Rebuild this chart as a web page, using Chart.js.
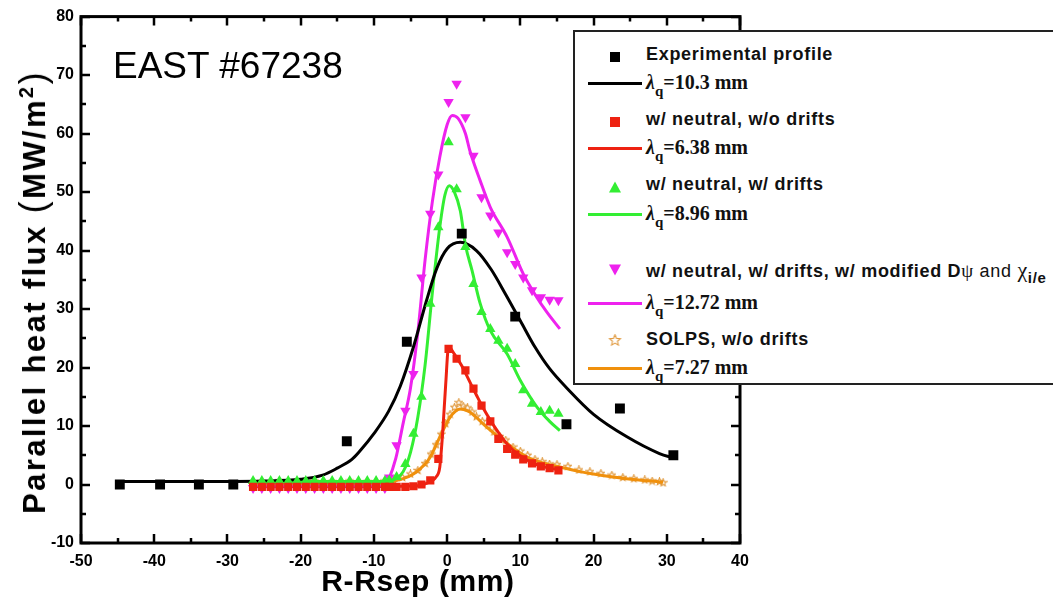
<!DOCTYPE html>
<html>
<head>
<meta charset="utf-8">
<script src="https://cdn.jsdelivr.net/npm/chart.js@4.4.0/dist/chart.umd.min.js"></script>
<style>
  html, body { margin: 0; padding: 0; background: #fff; }
  #wrap { position: relative; width: 1053px; height: 603px; overflow: hidden; }
  #heatChart { position: absolute; left: 0; top: 0; }
  .shot { position: absolute; left: 113px; top: 47px; font: 37px "Liberation Sans", Arial, sans-serif; line-height: 37px; color: #000; white-space: nowrap; }
  .ytitle { position: absolute; left: 33px; top: 292px; transform: translate(-50%, -50%) rotate(-90deg); font: bold 31px "Liberation Sans", Arial, sans-serif; letter-spacing: 2.4px; white-space: nowrap; color: #000; }
  .ytitle .par { font-weight: normal; font-size: 36px; }
  .ytitle sup { font-size: 20px; vertical-align: 12px; line-height: 0; }
  .xtitle { position: absolute; left: 418px; top: 581px; transform: translate(-50%, -50%); font: bold 30px "Liberation Sans", Arial, sans-serif; letter-spacing: 0.6px; white-space: nowrap; color: #000; }
  .legend { position: absolute; left: 573px; top: 30px; width: 500px; height: 355px; background: #fff; border: 2px solid #222; box-sizing: border-box; }
  .row { position: absolute; left: 0; right: 0; height: 26px; margin-top: -13px; }
  .mk { position: absolute; left: 40px; top: 13px; transform: translate(-50%, -50%); }
  .sq { width: 10px; height: 10px; }
  .up { width: 0; height: 0; border-left: 6px solid transparent; border-right: 6px solid transparent; border-bottom: 11px solid #33ee33; }
  .down { width: 0; height: 0; border-left: 6px solid transparent; border-right: 6px solid transparent; border-top: 11px solid #ee22ee; }
  .ln { position: absolute; left: 13px; top: 11px; width: 54px; height: 3px; }
  .tx { position: absolute; left: 71px; top: 0; line-height: 26px; white-space: nowrap; font: bold 18px "Liberation Sans", Arial, sans-serif; letter-spacing: 0.7px; color: #111; }
  .lam { font: bold 20px "Liberation Serif", "Times New Roman", serif; letter-spacing: 0; }
  .lam sub { font-size: 15px; vertical-align: -7px; line-height: 0; }
  .psi { font: 19px "Liberation Serif", serif; }
  .and { font-weight: normal; }
  .chi { font: 22px "Liberation Serif", serif; }
  .chi + sub { font-size: 15px; vertical-align: -6px; line-height: 0; }
</style>
</head>
<body>
<div id="wrap">
  <canvas id="heatChart" width="1053" height="603"></canvas>
  <div class="shot">EAST #67238</div>
  <div class="ytitle">Parallel heat flux <span class="par">(</span>MW/m<sup>2</sup><span class="par">)</span></div>
  <div class="xtitle">R-Rsep (mm)</div>
  <div class="legend">
    <div class="row" style="top:25px"><div class="mk sq" style="background:#000"></div><div class="tx">Experimental profile</div></div>
    <div class="row" style="top:52px"><div class="ln" style="background:#000"></div><div class="tx lam"><i>λ</i><sub>q</sub>=10.3 mm</div></div>
    <div class="row" style="top:90px"><div class="mk sq" style="background:#ee2211"></div><div class="tx">w/ neutral, w/o drifts</div></div>
    <div class="row" style="top:117px"><div class="ln" style="background:#ee2211"></div><div class="tx lam"><i>λ</i><sub>q</sub>=6.38 mm</div></div>
    <div class="row" style="top:155px"><div class="mk up"></div><div class="tx">w/ neutral, w/ drifts</div></div>
    <div class="row" style="top:183px"><div class="ln" style="background:#33ee33"></div><div class="tx lam"><i>λ</i><sub>q</sub>=8.96 mm</div></div>
    <div class="row" style="top:238px"><div class="mk down"></div><div class="tx">w/ neutral, w/ drifts, w/ modified D<span class="psi">ψ</span> <span class="and">and</span> <span class="chi">χ</span><sub>i/e</sub></div></div>
    <div class="row" style="top:272px"><div class="ln" style="background:#ee22ee"></div><div class="tx lam"><i>λ</i><sub>q</sub>=12.72 mm</div></div>
    <div class="row" style="top:310px"><div class="mk" id="starKey"></div><div class="tx">SOLPS, w/o drifts</div></div>
    <div class="row" style="top:337px"><div class="ln" style="background:#f0900c"></div><div class="tx lam"><i>λ</i><sub>q</sub>=7.27 mm</div></div>
  </div>
</div>
<script>
// axis ticks
const xTicks = [-50, -40, -30, -20, -10, 0, 10, 20, 30, 40];
const xMinor = [-45, -35, -25, -15, -5, 5, 15, 25, 35];
const yTicks = [-10, 0, 10, 20, 30, 40, 50, 60, 70, 80];
const yMinor = [-5, 5, 15, 25, 35, 45, 55, 65, 75];

// measured profile
const expX = [-44.7, -39.2, -33.9, -29.2, -13.7, -5.5, 2.0, 9.3, 16.3, 23.6, 30.9];
const expY = [0, 0, 0, 0, 7.4, 24.4, 42.9, 28.7, 10.3, 13.0, 5.0];
const expFitX = [-45, -35, -25, -20, -17, -15, -13, -12, -10, -8, -6.4, -4.6, -2.8, -1.4, 0, 1.8, 4, 6, 8, 10, 12, 14, 16.5, 20, 24.5, 29, 31];
const expFitY = [0.5, 0.5, 0.6, 0.9, 1.6, 2.8, 4.3, 5.6, 8.7, 12.5, 16.8, 23.5, 31.5, 37.0, 40.3, 41.4, 40.0, 36.8, 32.5, 28.0, 23.5, 19.8, 16.3, 12.0, 8.2, 5.3, 4.5];

// simulation grid shared by the three code runs
const simX = [-26.5, -25.3, -24.1, -22.9, -21.7, -20.5, -19.3, -18.1, -16.9, -15.7, -14.5, -13.3, -12.1, -10.9, -9.7, -8.5,
  -7.9, -6.9, -5.7, -4.6, -3.5, -2.3, -1.2, 0.2, 1.3, 2.5, 3.6, 4.7, 5.9, 7.0, 8.2, 9.3, 10.4, 11.6, 12.8, 14.0, 15.2];

// w/ neutral, w/o drifts
const noDriftY = [-0.4, -0.4, -0.4, -0.4, -0.4, -0.4, -0.4, -0.4, -0.4, -0.4, -0.4, -0.4, -0.4, -0.4, -0.4, -0.4,
  -0.4, -0.4, -0.4, -0.3, 0.0, 0.7, 4.4, 23.2, 21.5, 19.5, 16.4, 13.5, 10.8, 7.8, 6.1, 5.1, 4.3, 3.6, 3.1, 2.8, 2.4];
const noDriftFitX = [-26.5, -10, -4, -3, -2, -1.5, -1.0, -0.6, -0.2, 0.2, 1.0, 2.0, 3.0, 4.0, 5.0, 6.0, 7.0, 8.0, 9.0, 10.0, 11.5, 13.0, 15.2];
const noDriftFitY = [-0.3, -0.3, -0.2, 0.1, 0.7, 1.3, 3.0, 9.0, 17.0, 23.5, 22.3, 20.3, 17.8, 15.3, 12.9, 10.8, 8.9, 7.2, 5.9, 4.9, 3.8, 3.1, 2.5];

// w/ neutral, w/ drifts
const driftY = [0.6, 0.6, 0.6, 0.6, 0.6, 0.6, 0.6, 0.6, 0.6, 0.6, 0.6, 0.6, 0.6, 0.6, 0.6, 0.6,
  0.7, 1.3, 3.5, 8.7, 15.0, 30.9, 44.0, 58.5, 50.5, 40.6, 34.3, 29.5, 26.6, 24.6, 23.2, 20.6, 16.1, 13.8, 12.4, 12.6, 12.1];
const driftFitX = [-26.5, -10, -8, -7, -6, -5, -4, -3, -2, -1, -0.3, 0.3, 1.0, 1.8, 2.5, 3.4, 4.5, 5.9, 8.2, 10.0, 12.3, 14.0, 15.4];
const driftFitY = [0.5, 0.5, 0.6, 1.0, 2.2, 5.5, 11.5, 20.5, 33.0, 44.0, 49.5, 51.1, 50.0, 46.8, 41.0, 36.6, 31.0, 26.3, 22.3, 17.8, 13.2, 10.8, 9.2];

// w/ neutral, w/ drifts, modified transport
const modY = [-0.6, -0.6, -0.6, -0.6, -0.6, -0.6, -0.6, -0.6, -0.6, -0.6, -0.6, -0.6, -0.6, -0.6, -0.6, -0.6,
  1.2, 6.7, 12.6, 18.9, 35.4, 46.3, 53.0, 65.4, 68.5, 62.8, 56.2, 49.1, 46.0, 43.1, 39.7, 37.7, 35.4, 33.2, 32.0, 31.6, 31.5];
const modFitX = [-26.5, -10, -8.5, -8, -7, -6, -5, -4, -3, -2, -1, 0, 0.7, 1.5, 2.5, 3.1, 4.5, 5.9, 8.2, 10.4, 12.0, 13.6, 15.4];
const modFitY = [-0.4, -0.4, -0.2, 0.8, 4.5, 10.5, 16.5, 26.0, 38.5, 48.5, 56.0, 61.5, 63.1, 62.6, 60.0, 57.1, 52.0, 47.4, 42.3, 36.0, 32.5, 29.5, 26.6];

// SOLPS, w/o drifts
const solpsX = [-26.5, -25.3, -24.1, -22.9, -21.7, -20.5, -19.3, -18.1, -16.9, -15.7, -14.5, -13.3, -12.1, -10.9, -9.7, -8.5,
  -7.3, -6.1, -5.0, -4.0, -3.0, -2.2, -1.5, -0.8, -0.2, 0.4, 1.0, 1.6, 2.2, 2.8, 3.4, 4.0, 4.8, 5.6, 6.4, 7.2, 8.0, 9.0,
  10.0, 11.0, 12.0, 13.0, 14.0, 15.0, 16.5, 18.0, 19.5, 21.0, 22.5, 24.0, 25.5, 27.0, 28.0, 29.0, 29.5];
const solpsY = [0.3, 0.5, 0.3, 0.6, 0.3, 0.5, 0.3, 0.6, 0.4, 0.5, 0.3, 0.6, 0.4, 0.5, 0.4, 0.6,
  0.7, 1.2, 1.8, 2.4, 3.6, 5.2, 6.8, 8.6, 10.4, 12.0, 13.2, 14.0, 13.4, 13.1, 12.4, 11.6, 10.8, 10.1, 9.0, 8.2, 7.6, 6.4,
  5.7, 5.0, 4.3, 3.9, 3.5, 3.4, 3.1, 2.5, 2.2, 1.9, 1.6, 1.2, 1.0, 0.8, 0.6, 0.5, 0.3];
const solpsFitX = [-26.5, -10, -8, -6, -4.6, -3, -2.3, -1, 0.4, 1.8, 3.1, 5.4, 8.2, 10.9, 13.6, 15.4, 18.2, 20, 24.5, 29.5];
const solpsFitY = [0.2, 0.2, 0.4, 1.0, 1.8, 3.5, 4.7, 8.1, 11.5, 12.9, 12.4, 9.8, 7.0, 4.7, 3.5, 3.0, 2.2, 1.8, 1.0, 0.4];

const pts = (xs, ys) => xs.map((x, i) => ({ x: x, y: ys[i] }));

function makeStar(size, color) {
  const c = document.createElement('canvas');
  c.width = size;
  c.height = size;
  const g = c.getContext('2d');
  const r1 = size / 2 - 0.7, r2 = r1 * 0.45;
  g.beginPath();
  for (let i = 0; i < 10; i++) {
    const r = i % 2 ? r2 : r1;
    const a = -Math.PI / 2 + i * Math.PI / 5;
    g.lineTo(size / 2 + r * Math.cos(a), size / 2 + r * Math.sin(a));
  }
  g.closePath();
  g.strokeStyle = color;
  g.lineWidth = 1.1;
  g.stroke();
  return c;
}
document.getElementById('starKey').appendChild(makeStar(13, '#e09a40'));

function fitLine(label, xs, ys, color, order) {
  return {
    label: label, data: pts(xs, ys), showLine: true, pointRadius: 0,
    borderColor: color, borderWidth: 3, cubicInterpolationMode: 'monotone', order: order
  };
}
function markers(label, xs, ys, style, color, radius, order, extra) {
  return Object.assign({
    label: label, data: pts(xs, ys), showLine: false, pointStyle: style, pointRadius: radius,
    backgroundColor: color, borderColor: color, borderWidth: 0, order: order
  }, extra || {});
}

// frame with inward ticks on all four sides
const frameAxes = {
  id: 'frameAxes',
  afterDatasetsDraw(chart) {
    const { ctx, chartArea: a, scales: { x, y } } = chart;
    ctx.save();
    ctx.strokeStyle = '#000';
    ctx.lineWidth = 2.5;
    ctx.beginPath();
    const tick = (vals, len) => {
      vals.forEach(v => {
        const px = Math.round(x.getPixelForValue(v));
        ctx.moveTo(px, a.bottom); ctx.lineTo(px, a.bottom - len);
        ctx.moveTo(px, a.top); ctx.lineTo(px, a.top + len);
      });
    };
    const tickY = (vals, len) => {
      vals.forEach(v => {
        const py = Math.round(y.getPixelForValue(v));
        ctx.moveTo(a.left, py); ctx.lineTo(a.left + len, py);
        ctx.moveTo(a.right, py); ctx.lineTo(a.right - len, py);
      });
    };
    tick(xTicks, 9); tick(xMinor, 5);
    tickY(yTicks, 9); tickY(yMinor, 5);
    ctx.stroke();
    ctx.lineWidth = 3;
    ctx.strokeRect(a.left, a.top, a.right - a.left, a.bottom - a.top);
    ctx.restore();
  }
};

const tickFont = { family: '"Liberation Sans", Arial, sans-serif', size: 16, weight: 'bold' };

new Chart(document.getElementById('heatChart'), {
  type: 'scatter',
  data: {
    datasets: [
      markers('Experimental profile', expX, expY, 'rect', '#000', 7, 0),
      markers('w/ neutral, w/o drifts', simX, noDriftY, 'rect', '#ee2211', 5.8, 1),
      markers('w/ neutral, w/ drifts', simX, driftY, 'triangle', '#33ee33', 6, 2),
      markers('w/ neutral, w/ drifts, w/ modified Dψ and χi/e', simX, modY, 'triangle', '#ee22ee', 6, 3, { rotation: 180 }),
      fitLine('λq=10.3 mm', expFitX, expFitY, '#000', 4),
      fitLine('λq=6.38 mm', noDriftFitX, noDriftFitY, '#ee2211', 5),
      fitLine('λq=8.96 mm', driftFitX, driftFitY, '#33ee33', 6),
      fitLine('λq=12.72 mm', modFitX, modFitY, '#ee22ee', 7),
      fitLine('λq=7.27 mm', solpsFitX, solpsFitY, '#f0900c', 8),
      markers('SOLPS, w/o drifts', solpsX, solpsY, makeStar(9, '#e09a40'), '#e09a40', 5, 9)
    ]
  },
  options: {
    responsive: false,
    animation: false,
    devicePixelRatio: 1,
    layout: { padding: { top: 16, right: 313, bottom: 0, left: 0 } },
    plugins: { legend: { display: false }, tooltip: { enabled: false } },
    scales: {
      x: {
        type: 'linear', min: -50, max: 40,
        afterBuildTicks: s => { s.ticks = xTicks.map(v => ({ value: v })); },
        afterFit: s => { s.height = 60; },
        grid: { display: false, drawTicks: false },
        border: { display: false },
        ticks: { color: '#000', font: tickFont, padding: 9 }
      },
      y: {
        type: 'linear', min: -10, max: 80,
        afterBuildTicks: s => { s.ticks = yTicks.map(v => ({ value: v })); },
        afterFit: s => { s.width = 81; },
        grid: { display: false, drawTicks: false },
        border: { display: false },
        ticks: { color: '#000', font: tickFont, padding: 7 }
      }
    }
  },
  plugins: [frameAxes]
});
</script>
</body>
</html>
